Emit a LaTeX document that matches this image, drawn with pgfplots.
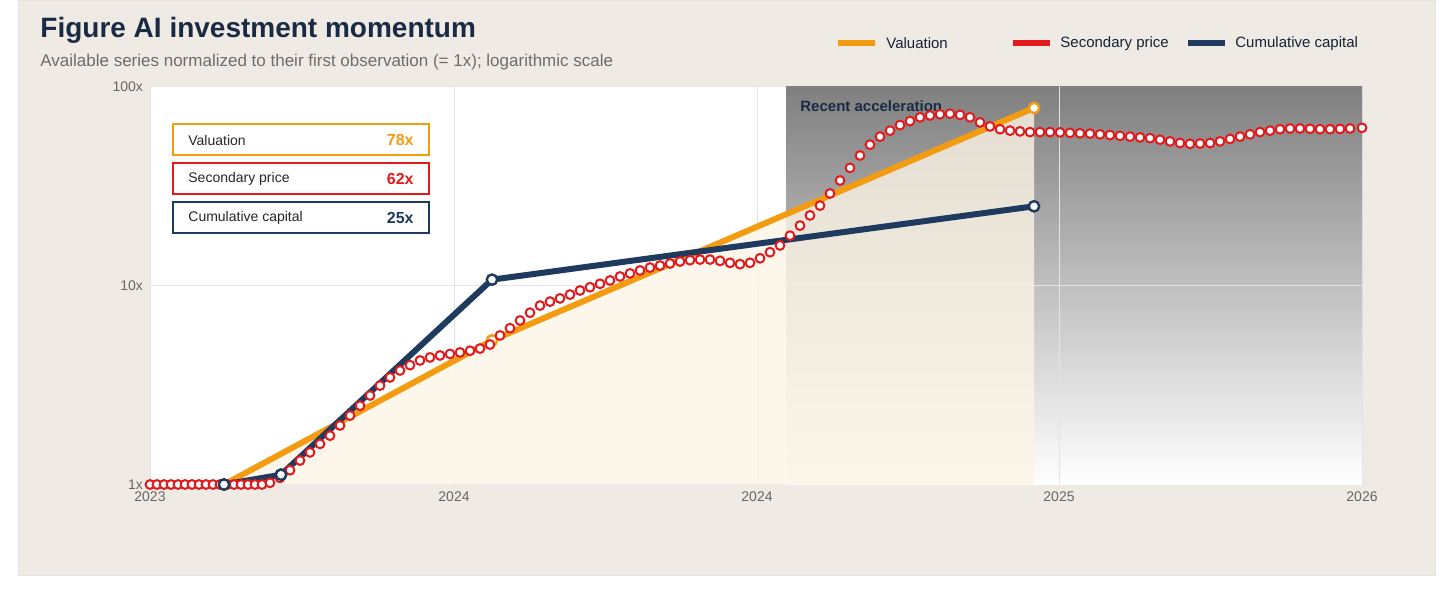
\documentclass[border=0pt]{standalone}
\usepackage{pgfplots}
\pgfplotsset{compat=1.18}
\usepackage{fontspec}
\setmainfont{Liberation Sans}
\definecolor{bgp}{HTML}{EFEBE4}
\definecolor{vorange}{HTML}{F39C12}
\definecolor{sred}{HTML}{E31A1C}
\definecolor{cnavy}{HTML}{1F3A5F}
\definecolor{ttl}{HTML}{1A2B45}
\definecolor{shade}{HTML}{F4F6F9}
\definecolor{cream}{HTML}{FCF4E6}
\definecolor{gridc}{HTML}{E4E4E4}
\begin{document}
\begin{tikzpicture}[x=1pt,y=1pt]
\fill[white] (0,0) rectangle (725,305);
\fill[bgp] (9,17.5) rectangle (717.5,305);
\draw[gridc,line width=0.5pt] (9,17.5) rectangle (717.5,305);
\node[anchor=west,font=\bfseries\fontsize{14}{16}\selectfont,text=ttl,inner sep=0] at (20,290) {Figure AI investment momentum};
\node[anchor=west,font=\fontsize{8.5}{10}\selectfont,text=gray!85!black,inner sep=0] at (20,274) {Available series normalized to their first observation (= 1x); logarithmic scale};
% legend
\draw[vorange,line width=3pt] (419,283.5) -- (437.5,283.5);
\node[anchor=west,font=\fontsize{7.5}{9}\selectfont,text=ttl!80!black,inner sep=0] at (443,283.5) {Valuation};
\draw[sred,line width=3pt] (506.5,283.5) -- (525,283.5);
\node[anchor=west,font=\fontsize{7.5}{9}\selectfont,text=ttl!80!black,inner sep=0] at (530,283.5) {Secondary price};
\draw[cnavy,line width=3pt] (594,283.5) -- (612.5,283.5);
\node[anchor=west,font=\fontsize{7.5}{9}\selectfont,text=ttl!80!black,inner sep=0] at (617.5,283.5) {Cumulative capital};
\begin{axis}[at={(75pt,63pt)},anchor=south west,scale only axis,width=606pt,height=199pt,
 ymode=log,ymin=1,ymax=100,xmin=150,xmax=1362,
 axis background/.style={fill=white},
 axis line style={gridc},
 xtick={150,454,757,1059,1362},xticklabels={2023,2024,2024,2025,2026},
 ytick={1,10,100},yticklabels={1x,10x,100x},
 tick style={draw=none},
 ticklabel style={font=\fontsize{7}{8}\selectfont,text=gray!80!black},
 grid=major,
 major grid style={gridc,line width=0.4pt},
 clip=false]
\fill[shade] (axis cs:786,1) rectangle (axis cs:1362,100);
\draw[gridc,line width=0.4pt] (axis cs:1059,1) -- (axis cs:1059,100);
\draw[gridc,line width=0.4pt] (axis cs:786,10) -- (axis cs:1362,10);
\addplot[fill=cream,fill opacity=0.8,draw=none] coordinates {(224,1) (492,5.3) (1034,78) (1034,1)} \closedcycle;
\addplot[vorange,line width=3pt,mark=*,mark size=2.6pt,mark options={fill=white,draw=vorange,line width=1.2pt},
 mark indices={2,3}] coordinates {(224,1) (492,5.3) (1034,78)};
\addplot[cnavy,line width=3pt,mark=*,mark size=2.6pt,mark options={fill=white,draw=cnavy,line width=1.2pt}] coordinates {(224,1) (281,1.12) (492,10.7) (1034,25)};
\addplot[draw=none,mark=*,mark size=2.2pt,mark options={fill=white,draw=sred,line width=1pt}] coordinates {
(150,1)(157,1)(164,1)(171,1)(178,1)(185,1)(192,1)(199,1)(206,1)(213,1)(220,1)(227,1)(234,1)(241,1)(248,1)(255,1)(262,1)
(270,1.02)(280,1.08)(290,1.18)(300,1.32)(310,1.45)(320,1.6)(330,1.76)(340,1.98)(350,2.22)(360,2.49)(370,2.8)(380,3.14)(390,3.45)(400,3.74)(410,3.98)(420,4.2)(430,4.35)(440,4.45)(450,4.53)(460,4.61)(470,4.7)(480,4.82)(490,5.05)(500,5.61)(510,6.1)(520,6.67)(530,7.3)(540,7.93)(550,8.3)(560,8.61)(570,9.0)(580,9.44)(590,9.8)(600,10.2)(610,10.6)(620,11.1)(630,11.5)(640,11.9)(650,12.3)(660,12.6)(670,12.9)(680,13.2)(690,13.4)(700,13.5)(710,13.5)(720,13.3)(730,13.0)(740,12.8)(750,13.0)(760,13.7)(770,14.7)(780,15.9)(790,17.8)(800,20.0)(810,22.5)(820,25.2)(830,29)(840,33.7)(850,39)(860,45)(870,51)(880,56)(890,60)(900,64)(910,67)(920,70)(930,71.5)(940,72.5)(950,73)(960,72)(970,70)(980,66)(990,63)(1000,61)(1010,60)(1020,59.5)(1030,59)(1040,59)(1050,59)(1060,58.8)(1070,58.5)(1080,58.2)(1090,58)(1100,57.5)(1110,57)(1120,56.5)(1130,56)(1140,55.5)(1150,55)(1160,54)(1170,53)(1180,52)(1190,51.5)(1200,51.7)(1210,52)(1220,53)(1230,54.5)(1240,56)(1250,57.5)(1260,59)(1270,60)(1280,61)(1290,61.5)(1300,61.5)(1310,61.3)(1320,61)(1330,61)(1340,61.2)(1350,61.5)(1362,62)};
\addplot[only marks,mark=*,mark size=2.6pt,mark options={fill=white,draw=cnavy,line width=1.2pt}] coordinates {(224,1) (281,1.12)};
\node[anchor=west,font=\bfseries\fontsize{7.5}{9}\selectfont,text=ttl,inner sep=0] at (axis cs:800,80) {Recent acceleration};
\end{axis}
% value boxes
\foreach \yt/\cc/\lab/\val in {243/vorange/Valuation/78x, 223.5/sred/Secondary price/62x, 204/cnavy/Cumulative capital/25x}{
 \filldraw[fill=white,draw=\cc,line width=1pt] (86.5,\yt) rectangle (214.5,\yt-15.5);
 \node[anchor=west,font=\fontsize{7}{8}\selectfont,text=gray!30!black,inner sep=0] at (94,\yt-7.75) {\lab};
 \node[anchor=east,font=\bfseries\fontsize{8}{9}\selectfont,text=\cc,inner sep=0] at (207,\yt-7.75) {\val};
}
\end{tikzpicture}
\end{document}
